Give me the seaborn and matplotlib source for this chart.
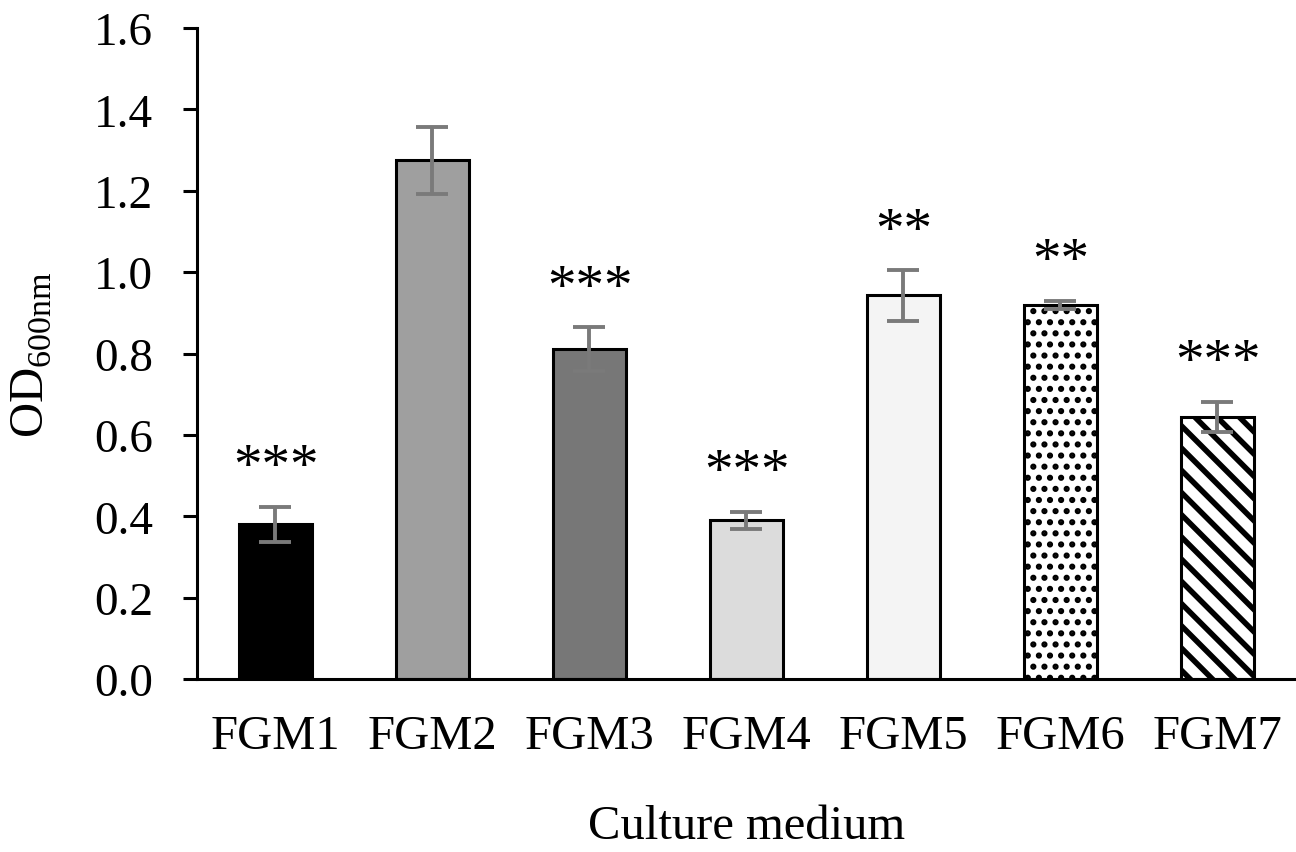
import matplotlib
matplotlib.use("Agg")
import matplotlib.pyplot as plt
import seaborn as sns
import pandas as pd

media = ["FGM1", "FGM2", "FGM3", "FGM4", "FGM5", "FGM6", "FGM7"]
od600 = [0.38, 1.275, 0.81, 0.39, 0.943, 0.92, 0.645]
od_err = [0.043, 0.082, 0.054, 0.021, 0.062, 0.01, 0.037]
stars = ["***", "", "***", "***", "**", "**", "***"]
bar_colors = ["#000000", "#9f9f9f", "#777777", "#dcdcdc", "#f4f4f4", "#ffffff", "#ffffff"]
hatches = [None, None, None, None, None, "...", "\\\\\\"]
y_ticks = [0.0, 0.2, 0.4, 0.6, 0.8, 1.0, 1.2, 1.4, 1.6]

df = pd.DataFrame({"medium": media, "od": od600})

sns.set_style("ticks")
plt.rcParams["font.family"] = ["Liberation Serif", "DejaVu Serif"]
plt.rcParams["mathtext.fontset"] = "custom"
plt.rcParams["mathtext.rm"] = "Liberation Serif"
plt.rcParams["text.color"] = "black"
plt.rcParams["axes.labelcolor"] = "black"
plt.rcParams["xtick.color"] = "black"
plt.rcParams["ytick.color"] = "black"

fig = plt.figure(figsize=(6.48, 4.265), dpi=200)
ax = fig.add_axes([0.152, 0.2028, 0.848, 0.7632])

sns.barplot(data=df, x="medium", y="od", hue="medium", palette=bar_colors,
            width=0.46, edgecolor="black", linewidth=1.1, saturation=1,
            errorbar=None, legend=False, ax=ax)

for patch, h in zip(ax.patches, hatches):
    if h:
        patch.set_hatch(h)
        lw = 1.4 if h.startswith(".") else 2.0
        if hasattr(patch, "set_hatch_linewidth"):
            patch.set_hatch_linewidth(lw)
        else:
            plt.rcParams["hatch.linewidth"] = lw

ax.errorbar(range(len(media)), od600, yerr=od_err, fmt="none",
            ecolor="#7a7a7a", elinewidth=1.4, capsize=5.8, capthick=1.4, zorder=5)

for i, s in enumerate(stars):
    if s:
        ax.text(i, od600[i] + od_err[i] + 0.06, s, ha="center", va="baseline",
                fontsize=20.5, color="black")

ax.set_xlim(-0.5, len(media) - 0.5)
ax.set_ylim(0, 1.6)
ax.set_yticks(y_ticks)
ax.set_yticklabels([f"{t:.1f}" for t in y_ticks])

ax.set_xlabel("Culture medium", fontsize=17.5, labelpad=16.5)
ax.set_ylabel(r"OD$_{\mathregular{600nm}}$", fontsize=17.5, labelpad=14.5)

ax.tick_params(axis="y", labelsize=17, length=5, width=1.1, pad=10.8)
ax.tick_params(axis="x", labelsize=17.5, length=0, pad=12.5)

sns.despine(ax=ax)
for side in ["left", "bottom"]:
    ax.spines[side].set_linewidth(1.1)
    ax.spines[side].set_color("black")

fig.savefig("out.png", dpi=200)
